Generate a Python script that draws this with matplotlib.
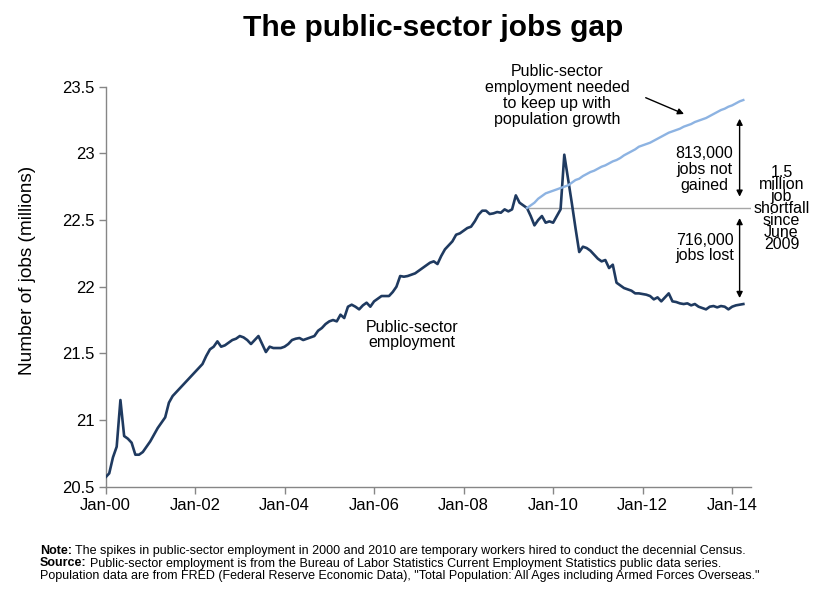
import numpy as np
import matplotlib
matplotlib.use("Agg")
import matplotlib.pyplot as plt

# ---------------- data (millions of jobs, monthly from Jan 2000) ----------------
public_sector = [
    20.57, 20.60, 20.72, 20.80, 21.15, 20.88, 20.86, 20.83, 20.74, 20.74, 20.76, 20.80,   # 2000
    20.84, 20.89, 20.94, 20.98, 21.02, 21.13, 21.18, 21.21, 21.24, 21.27, 21.30, 21.33,   # 2001
    21.36, 21.39, 21.42, 21.48, 21.53, 21.55, 21.59, 21.55, 21.56, 21.58, 21.60, 21.61,   # 2002
    21.63, 21.62, 21.60, 21.57, 21.60, 21.63, 21.57, 21.51, 21.55, 21.54, 21.54, 21.54,   # 2003
    21.55, 21.57, 21.60, 21.61, 21.615, 21.60, 21.61, 21.62, 21.63, 21.67, 21.69, 21.72, # 2004
    21.74, 21.75, 21.74, 21.79, 21.765, 21.85, 21.865, 21.85, 21.83, 21.86, 21.88, 21.85, # 2005
    21.89, 21.91, 21.93, 21.93, 21.93, 21.96, 22.00, 22.08, 22.075, 22.08, 22.09, 22.10, # 2006
    22.12, 22.14, 22.16, 22.18, 22.19, 22.17, 22.23, 22.28, 22.31, 22.34, 22.39, 22.40,  # 2007
    22.42, 22.44, 22.45, 22.49, 22.54, 22.57, 22.57, 22.545, 22.55, 22.56, 22.555, 22.58, # 2008
    22.565, 22.58, 22.685, 22.63, 22.61, 22.59, 22.53, 22.46, 22.50, 22.53, 22.48, 22.49, # 2009
    22.48, 22.53, 22.58, 22.99, 22.81, 22.63, 22.44, 22.26, 22.30, 22.29, 22.27, 22.24,  # 2010
    22.21, 22.19, 22.20, 22.14, 22.165, 22.03, 22.01, 21.99, 21.98, 21.97, 21.95, 21.95, # 2011
    21.945, 21.94, 21.93, 21.905, 21.92, 21.89, 21.92, 21.95, 21.89, 21.885, 21.875, 21.87, # 2012
    21.875, 21.86, 21.87, 21.85, 21.84, 21.83, 21.85, 21.855, 21.845, 21.855, 21.85, 21.83, # 2013
    21.85, 21.86, 21.865, 21.87,                                                          # 2014
]
needed_start_month = 113  # June 2009
needed_for_population = [
    22.59, 22.61, 22.63, 22.66, 22.68, 22.70, 22.71,                                      # 2009 Jun-Dec
    22.72, 22.73, 22.74, 22.75, 22.76, 22.78, 22.80, 22.81, 22.83, 22.845, 22.86, 22.87,  # 2010
    22.885, 22.90, 22.91, 22.925, 22.94, 22.95, 22.965, 22.985, 23.00, 23.015, 23.03, 23.05, # 2011
    23.06, 23.07, 23.08, 23.095, 23.11, 23.125, 23.14, 23.155, 23.165, 23.175, 23.185, 23.20, # 2012
    23.21, 23.22, 23.235, 23.245, 23.255, 23.265, 23.28, 23.295, 23.31, 23.325, 23.335, 23.35, # 2013
    23.36, 23.375, 23.39, 23.40,                                                          # 2014
]
tick_months = [0, 24, 48, 72, 96, 120, 144, 168]
tick_labels = ["Jan-00", "Jan-02", "Jan-04", "Jan-06", "Jan-08", "Jan-10", "Jan-12", "Jan-14"]
y_ticks = [20.5, 21, 21.5, 22, 22.5, 23, 23.5]

# ---------------- styling ----------------
plt.rcParams['font.family'] = ['Liberation Sans', 'DejaVu Sans']
DARK = "#1F3A60"
LIGHT = "#8DB3E2"
GRAY = "#868686"

W, H = 815, 594
fig = plt.figure(figsize=(W / 100, H / 100), dpi=100)
ax_left, ax_right, ax_top, ax_bot = 105.5, 750.8, 86.7, 486.7
ax = fig.add_axes([ax_left / W, 1 - ax_bot / H, (ax_right - ax_left) / W, (ax_bot - ax_top) / H])

months = np.arange(len(public_sector))
needed_months = np.arange(needed_start_month, needed_start_month + len(needed_for_population))

ax.plot(months, public_sector, color=DARK, lw=1.9, solid_joinstyle='round', zorder=3)
ax.plot(needed_months, needed_for_population, color=LIGHT, lw=1.7, zorder=3)

base = needed_for_population[0]
ax.hlines(base, needed_start_month, 173, color="#A6A6A6", lw=1.0, zorder=2)

ax.set_xlim(0, 173)
ax.set_ylim(20.5, 23.5)
ax.set_xticks(tick_months)
ax.set_xticklabels(tick_labels)
ax.set_yticks(y_ticks)
ax.set_yticklabels([f"{v:g}" for v in y_ticks])
for s in ["top", "right"]:
    ax.spines[s].set_visible(False)
for s in ["left", "bottom"]:
    ax.spines[s].set_color(GRAY)
    ax.spines[s].set_linewidth(1.0)
ax.tick_params(axis='both', colors=GRAY, length=5, width=1.0, direction='out',
               labelcolor='black', labelsize=12)
ax.tick_params(axis='x', pad=3)
ax.tick_params(axis='y', pad=3)

# gap arrows
arrow_x = 170
top_val = needed_for_population[-1]
bot_val = public_sector[-1]
arr = dict(arrowstyle='<|-|>', color='black', lw=1.0, mutation_scale=9, shrinkA=0, shrinkB=0)
ax.annotate("", xy=(arrow_x, top_val - 0.14), xytext=(arrow_x, base + 0.085), arrowprops=arr)
ax.annotate("", xy=(arrow_x, base - 0.075), xytext=(arrow_x, bot_val + 0.045), arrowprops=arr)

def px2data(px, py):
    return (px - ax_left) / 3.73, 23.5 - (py - ax_top) / 133.33

TXT = 11.5
x, y = px2data(704.5, 169.5)
ax.text(x, y, "813,000\njobs not\ngained", ha='center', va='center', fontsize=TXT, linespacing=1.08)
x, y = px2data(704.5, 248)
ax.text(x, y, "716,000\njobs lost", ha='center', va='center', fontsize=TXT, linespacing=1.08)
x, y = px2data(781.5, 208.5)
ax.text(x, y, "1.5\nmillion\njob\nshortfall\nsince\nJune\n2009", ha='center', va='center',
        fontsize=TXT, linespacing=0.76, clip_on=False)
x, y = px2data(557, 95.5)
ax.text(x, y, "Public-sector\nemployment needed\nto keep up with\npopulation growth", ha='center',
        va='center', fontsize=TXT, linespacing=1.08)
x, y = px2data(412, 335)
ax.text(x, y, "Public-sector\nemployment", ha='center', va='center', fontsize=TXT, linespacing=1.08)

x0, y0 = px2data(645.7, 97.7)
x1, y1 = px2data(684, 114)
ax.annotate("", xy=(x1, y1), xytext=(x0, y0),
            arrowprops=dict(arrowstyle='-|>', color='black', lw=1.0, mutation_scale=9,
                            shrinkA=0, shrinkB=0))

# title and y label
fig.text(433 / W, 1 - 28 / H, "The public-sector jobs gap", ha='center', va='center',
         fontsize=21.5, fontweight='bold')
fig.text(27 / W, 1 - 270 / H, "Number of jobs (millions)", ha='center', va='center',
         rotation=90, fontsize=13.7)

# footnotes
narrow = ['Liberation Sans Narrow', 'Liberation Sans', 'DejaVu Sans']
FN = 9.0
renderer = fig.canvas.get_renderer()
def note_line(py, bold, rest):
    xpos = 40 / W
    if bold:
        t = fig.text(xpos, 1 - py / H, bold, ha='left', va='center', fontsize=FN,
                     fontweight='bold', family=narrow)
        bb = t.get_window_extent(renderer)
        xpos = (bb.x1 + 3) / W
    fig.text(xpos, 1 - py / H, rest, ha='left', va='center', fontsize=FN, family=narrow)

note_line(551, "Note:", "The spikes in public-sector employment in 2000 and 2010 are temporary workers hired to conduct the decennial Census.")
note_line(563.5, "Source:", "Public-sector employment is from the Bureau of Labor Statistics Current Employment Statistics public data series.")
note_line(576, None, "Population data are from FRED (Federal Reserve Economic Data), \"Total Population: All Ages including Armed Forces Overseas.\"")

fig.savefig("out.png", dpi=100)
